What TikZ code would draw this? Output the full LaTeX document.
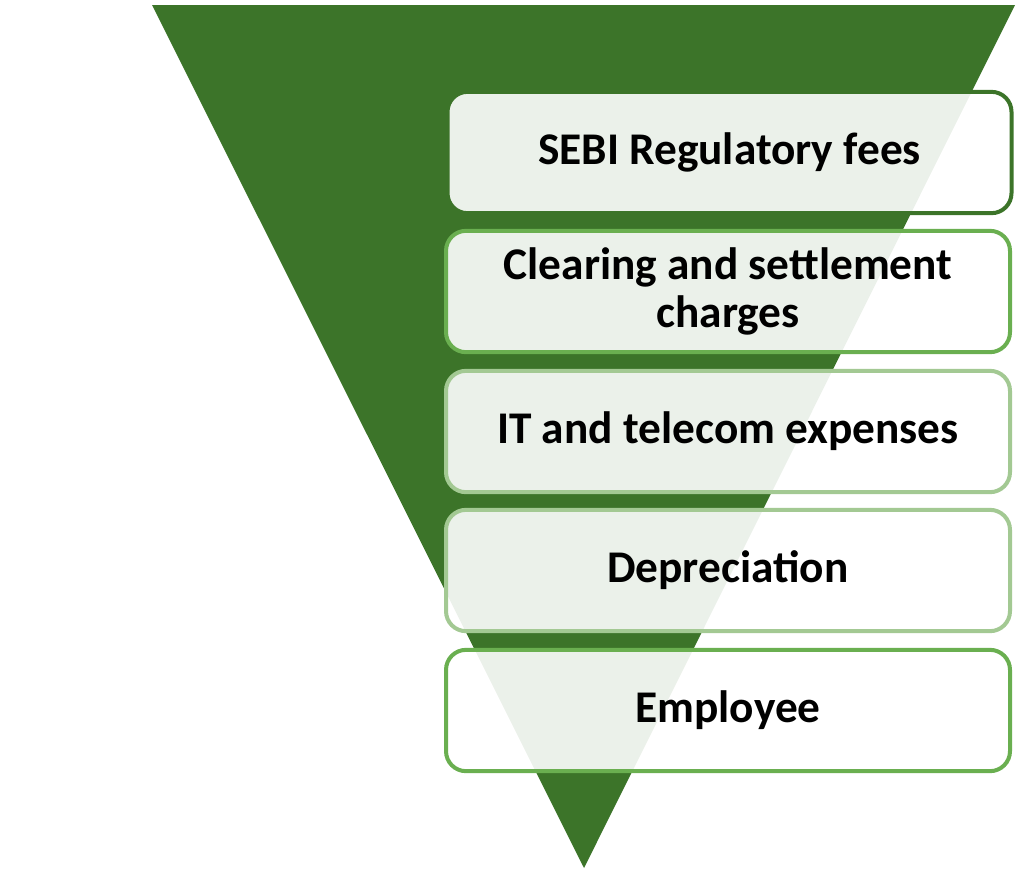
\documentclass[tikz,border=0pt]{standalone}
\usepackage{fontspec}
\setmainfont{Carlito}
\definecolor{funnelgreen}{RGB}{60,116,41}
\definecolor{midgreen}{RGB}{106,175,80}
\definecolor{palegreen}{RGB}{163,201,147}
\tikzset{every picture/.style={line width=0.75pt}}
\tikzset{costbox/.style={draw, line width=3pt, fill=white, fill opacity=0.9, text opacity=1, rounded corners=15pt, minimum width=423pt, minimum height=91pt, inner sep=0.75pt, align=center, font=\fontsize{34}{36}\selectfont\bfseries}}

\begin{document}
\begin{tikzpicture}[x=0.75pt,y=0.75pt,yscale=-1,xscale=1]
			\useasboundingbox (0,0) rectangle (1024,882);
			
			%Shape: Triangle [id:funnel] 
			\fill [funnelgreen] (152,5) -- (1015,5) -- (584,868) -- cycle ;
			
			%Shape: Rounded Rect [id:sebi] 
			\node (sebi) at (729.5,152.5) [costbox, draw=funnelgreen] {SEBI Regulatory fees};
			%Shape: Rounded Rect [id:clearing] 
			\node (clearing) at (728,291.5) [costbox, draw=midgreen] {Clearing and settlement\\charges};
			%Shape: Rounded Rect [id:telecom] 
			\node (telecom) at (728,431.5) [costbox, draw=palegreen] {IT and telecom expenses};
			%Shape: Rounded Rect [id:depreciation] 
			\node (depreciation) at (728,570.5) [costbox, draw=palegreen] {Depreciation};
			%Shape: Rounded Rect [id:employee] 
			\node (employee) at (728,710.5) [costbox, draw=midgreen] {Employee};
			
		\end{tikzpicture}
\end{document}
